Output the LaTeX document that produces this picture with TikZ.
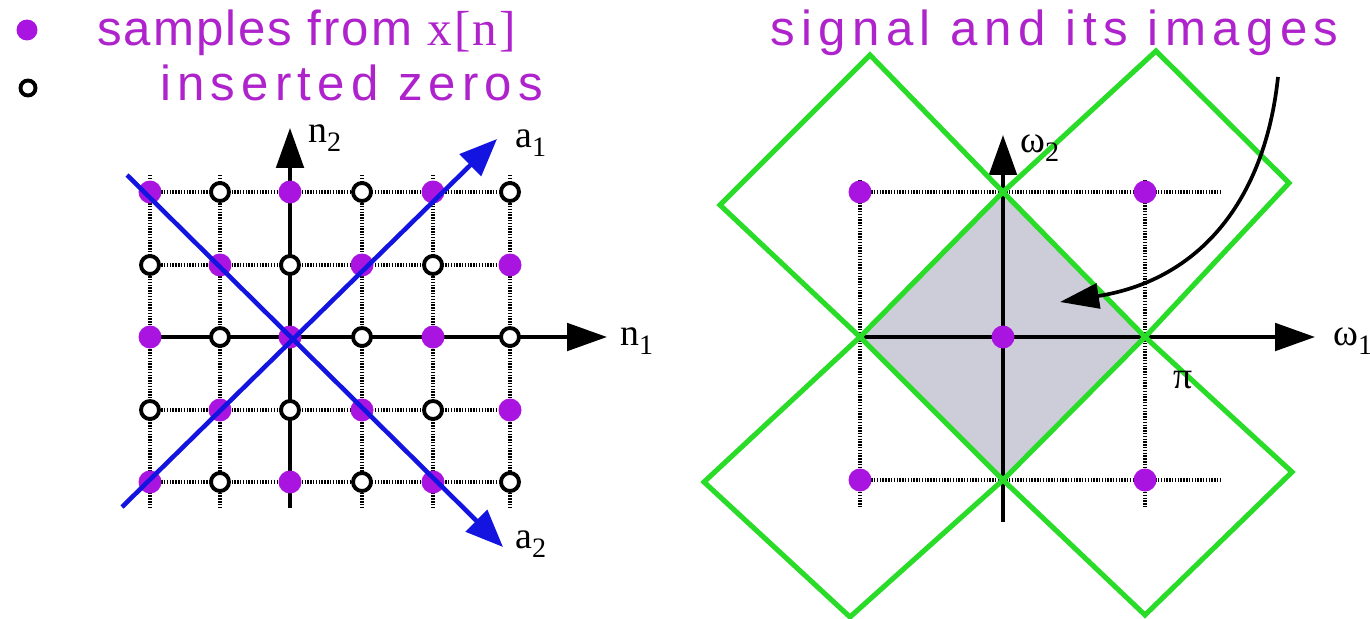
\documentclass[tikz,border=0pt]{standalone}
\usepackage{fontspec}
\setmainfont{Liberation Serif}
\newfontfamily\titlefontA[LetterSpace=4]{Liberation Sans}
\newfontfamily\titlefontB[LetterSpace=12.5]{Liberation Sans}
\newfontfamily\titlefontC[LetterSpace=13]{Liberation Sans}
\newfontfamily\titleserif[LetterSpace=4]{Liberation Serif}
\usetikzlibrary{arrows.meta,calc}
\definecolor{dotpurple}{RGB}{170,20,225}
\definecolor{txtpurple}{RGB}{175,35,205}
\definecolor{lineblue}{RGB}{20,20,225}
\definecolor{imggreen}{RGB}{40,220,40}
\definecolor{shadefill}{RGB}{205,205,218}
\newcommand{\lsub}[1]{\raisebox{-5.5pt}{\fontsize{16}{16}\selectfont #1}}
\begin{document}
\begin{tikzpicture}[x=0.02cm,y=-0.02cm,
  gridline/.style={line width=2.1pt,dash pattern=on 0.8pt off 0.8pt},
  axisarrow/.style={line width=2.1pt,-{Triangle[length=0.8cm,width=0.55cm]}},
  bluearrow/.style={draw=lineblue,line width=2.6pt,-{Triangle[length=0.75cm,width=0.6cm]}},
  fulldot/.style={circle,fill=dotpurple,inner sep=0pt,minimum size=0.46cm},
  opendot/.style={circle,draw=black,fill=white,line width=2.2pt,inner sep=0pt,minimum size=0.36cm},
  greenbox/.style={draw=imggreen,line width=2.9pt,line join=miter},
  lab/.style={anchor=base west,inner sep=0pt,font=\fontsize{21.5}{22}\selectfont},
  titletext/.style={anchor=base west,inner sep=0pt,text=txtpurple},
  curvearrow/.style={line width=2.1pt,-{Triangle[length=0.78cm,width=0.5cm]}}
]
\fill[white] (0,0) rectangle (1370,619);
\useasboundingbox (0,0) rectangle (1370,619);

% ---------- titles and legend ----------
\node[fulldot,minimum size=0.42cm] (legfull) at (27,30) {};
\node[opendot,minimum size=0.3cm] (legopen) at (28,88) {};
\node[titletext] (t1) at (97,45) {\titlefontA\fontsize{28}{30}\selectfont samples from {\titleserif x[n]}};
\node[titletext] (t2) at (160,100) {\titlefontB\fontsize{28}{30}\selectfont inserted zeros};
\node[titletext] (t3) at (770,45) {\titlefontC\fontsize{28}{30}\selectfont signal and its images};

% ---------- left lattice ----------
\foreach \i/\x in {0/150,1/220,2/290,3/362,4/433,5/510}{
  \foreach \j/\y in {0/192,1/265,2/337,3/410,4/482}{
    \coordinate (P-\i-\j) at (\x,\y);
  }
}
\foreach \j in {0,1,3,4}{\draw[gridline] (P-0-\j) -- (P-5-\j);}
\foreach \i in {0,1,3,4,5}{\draw[gridline] ([yshift=0.34cm]P-\i-0) -- ([yshift=-0.52cm]P-\i-4);}
\coordinate (n1s) at (150,337);
\coordinate (n1e) at (607,337);
\coordinate (n2s) at (290,508);
\coordinate (n2e) at (290,128);
\draw[axisarrow] (n1s) -- (n1e);
\draw[axisarrow] (n2s) -- (n2e);
\foreach \i in {0,...,5}{
  \foreach \j in {0,...,4}{
    \pgfmathtruncatemacro\pq{mod(\i+\j,2)}
    \ifnum\pq=0
      \node[fulldot] (D-\i-\j) at (P-\i-\j) {};
    \else
      \node[opendot] (D-\i-\j) at (P-\i-\j) {};
    \fi
  }
}
\coordinate (a1s) at (122,507);
\coordinate (a1e) at (497,139);
\coordinate (a2s) at (127,175);
\coordinate (a2e) at (503,547);
\draw[bluearrow] (a1s) -- (a1e);
\draw[bluearrow] (a2s) -- (a2e);
\node[lab] (n2lab) at (308,142) {n\lsub{2}};
\node[lab] (n1lab) at (620,345) {n\lsub{1}};
\node[lab] (a1lab) at (515,147) {a\lsub{1}};
\node[lab] (a2lab) at (515,548) {a\lsub{2}};

% ---------- right spectrum ----------
\foreach \i/\x in {0/860,1/1003,2/1145}{
  \foreach \j/\y in {0/192,1/337,2/480}{
    \coordinate (Q-\i-\j) at (\x,\y);
  }
}
\coordinate (gr0) at (1220,192);
\coordinate (gr2) at (1220,480);
\draw[gridline] (Q-0-0) -- (gr0);
\draw[gridline] (Q-0-2) -- (gr2);
\foreach \i in {0,2}{\draw[gridline] ([yshift=0.24cm]Q-\i-0) -- ([yshift=-0.56cm]Q-\i-2);}
\filldraw[fill=shadefill,draw=lineblue,line width=1.8pt] (Q-1-0) -- (Q-2-1) -- (Q-1-2) -- (Q-0-1) -- cycle;
\coordinate (w1e) at (1315,337);
\coordinate (w2s) at (1003,522);
\coordinate (w2e) at (1003,135);
\draw[axisarrow] (Q-0-1) -- (w1e);
\draw[axisarrow] (w2s) -- (w2e);
\foreach \i/\j in {0/0,2/0,1/1,0/2,2/2}{
  \node[fulldot] (E-\i-\j) at (Q-\i-\j) {};
}
% green images
\coordinate (gTLl) at (720,205);
\coordinate (gTLt) at (870,55);
\coordinate (gTRt) at (1156,51);
\coordinate (gTRr) at (1289,183);
\coordinate (gBLl) at (704,482);
\coordinate (gBLb) at (850,617);
\coordinate (gBRb) at (1145,615);
\coordinate (gBRr) at (1292,472);
\draw[greenbox] (gTLl) -- (gTLt) -- (Q-1-0) -- (Q-0-1) -- cycle;
\draw[greenbox] (Q-1-0) -- (gTRt) -- (gTRr) -- (Q-2-1) -- cycle;
\draw[greenbox] (gBLl) -- (Q-0-1) -- (Q-1-2) -- (gBLb) -- cycle;
\draw[greenbox] (Q-1-2) -- (Q-2-1) -- (gBRr) -- (gBRb) -- cycle;
% curved pointer
\coordinate (cstart) at (1278,77);
\coordinate (cend) at (1060,302);
\draw[curvearrow] (cstart) .. controls (1265,200) and (1200,280) .. (cend);
\node[lab] (w2lab) at (1020,152) {ω\lsub{2}};
\node[lab] (w1lab) at (1333,345) {ω\lsub{1}};
\node[lab] (pilab) at (1173,388) {π};
\end{tikzpicture}
\end{document}
